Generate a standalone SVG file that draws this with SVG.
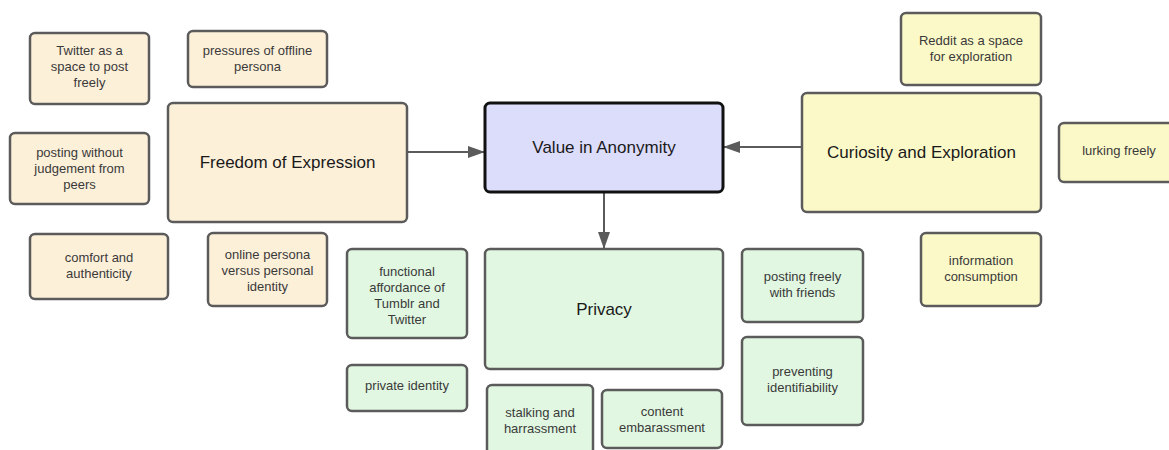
<svg xmlns="http://www.w3.org/2000/svg" width="1169" height="450" viewBox="0 0 1169 450">
  <style>
    .box { stroke: #5b5b5b; stroke-width: 2.5; }
    .orange { fill: #fdf0d9; }
    .yellow { fill: #fcf9c8; }
    .green { fill: #e1f7e1; }
    .core { fill: #dcdcfb; stroke: #111111; stroke-width: 3; }
    .small { font-family: "Liberation Sans", Arial, sans-serif; font-size: 13px; fill: #3a3a3a; text-anchor: middle; }
    .big { font-family: "Liberation Sans", Arial, sans-serif; font-size: 17px; fill: #1a1a1a; text-anchor: middle; }
    .link { stroke: #5b5b5b; stroke-width: 2; fill: none; marker-end: url(#head); }
  </style>
  <defs>
    <marker id="head" viewBox="0 0 17 12" refX="17" refY="6" markerWidth="17" markerHeight="12" markerUnits="userSpaceOnUse" orient="auto">
      <path d="M0,0 L17,6 L0,12 Z" fill="#5b5b5b"/>
    </marker>
  </defs>
  <rect width="1169" height="450" fill="#ffffff"/>

  <g id="connectors">
    <line class="link" x1="407" y1="152" x2="485" y2="152"/>
    <line class="link" x1="802" y1="147" x2="723" y2="147"/>
    <line class="link" x1="604" y1="192" x2="604" y2="249"/>
  </g>

  <!-- central concept -->
  <g id="value-in-anonymity">
    <rect class="core" x="485" y="103" width="238" height="89" rx="5"/>
    <text class="big" x="604" y="153">Value in Anonymity</text>
  </g>

  <!-- freedom of expression cluster -->
  <g id="freedom-of-expression">
    <rect class="box orange" x="168" y="103" width="239" height="119" rx="5"/>
    <text class="big" x="287.5" y="168">Freedom of Expression</text>
  </g>
  <g id="twitter-space">
    <rect class="box orange" x="30" y="33" width="119" height="71" rx="5"/>
    <text class="small" x="89.5" y="55">Twitter as a</text>
    <text class="small" x="89.5" y="71">space to post</text>
    <text class="small" x="89.5" y="87">freely</text>
  </g>
  <g id="offline-persona">
    <rect class="box orange" x="188" y="31" width="139" height="56" rx="5"/>
    <text class="small" x="257.5" y="55">pressures of offline</text>
    <text class="small" x="257.5" y="71">persona</text>
  </g>
  <g id="no-judgement">
    <rect class="box orange" x="10" y="133" width="139" height="71" rx="5"/>
    <text class="small" x="79.5" y="157">posting without</text>
    <text class="small" x="79.5" y="173">judgement from</text>
    <text class="small" x="79.5" y="189">peers</text>
  </g>
  <g id="comfort">
    <rect class="box orange" x="30" y="234" width="138" height="65" rx="5"/>
    <text class="small" x="99" y="262">comfort and</text>
    <text class="small" x="99" y="278">authenticity</text>
  </g>
  <g id="online-persona">
    <rect class="box orange" x="208" y="233" width="119" height="73" rx="5"/>
    <text class="small" x="267.5" y="259">online persona</text>
    <text class="small" x="267.5" y="275">versus personal</text>
    <text class="small" x="267.5" y="291">identity</text>
  </g>

  <!-- curiosity cluster -->
  <g id="curiosity-exploration">
    <rect class="box yellow" x="802" y="93" width="239" height="119" rx="5"/>
    <text class="big" x="921.5" y="158">Curiosity and Exploration</text>
  </g>
  <g id="reddit-space">
    <rect class="box yellow" x="901" y="13" width="140" height="72" rx="5"/>
    <text class="small" x="971" y="45">Reddit as a space</text>
    <text class="small" x="971" y="61">for exploration</text>
  </g>
  <g id="lurking">
    <rect class="box yellow" x="1059" y="123" width="120" height="59" rx="5"/>
    <text class="small" x="1119" y="155">lurking freely</text>
  </g>
  <g id="information">
    <rect class="box yellow" x="921" y="233" width="120" height="73" rx="5"/>
    <text class="small" x="981" y="265">information</text>
    <text class="small" x="981" y="281">consumption</text>
  </g>

  <!-- privacy cluster -->
  <g id="privacy">
    <rect class="box green" x="485" y="249" width="238" height="120" rx="5"/>
    <text class="big" x="604" y="315">Privacy</text>
  </g>
  <g id="functional-affordance">
    <rect class="box green" x="347" y="249" width="120" height="89" rx="5"/>
    <text class="small" x="407" y="276">functional</text>
    <text class="small" x="407" y="292">affordance of</text>
    <text class="small" x="407" y="308">Tumblr and</text>
    <text class="small" x="407" y="324">Twitter</text>
  </g>
  <g id="private-identity">
    <rect class="box green" x="347" y="365" width="120" height="46" rx="5"/>
    <text class="small" x="407" y="390">private identity</text>
  </g>
  <g id="stalking">
    <rect class="box green" x="487" y="385" width="106" height="75" rx="5"/>
    <text class="small" x="540" y="417">stalking and</text>
    <text class="small" x="540" y="433">harrassment</text>
  </g>
  <g id="content-embarassment">
    <rect class="box green" x="602" y="390" width="120" height="58" rx="5"/>
    <text class="small" x="662" y="416">content</text>
    <text class="small" x="662" y="432">embarassment</text>
  </g>
  <g id="posting-friends">
    <rect class="box green" x="742" y="249" width="121" height="73" rx="5"/>
    <text class="small" x="802.5" y="281">posting freely</text>
    <text class="small" x="802.5" y="297">with friends</text>
  </g>
  <g id="identifiability">
    <rect class="box green" x="742" y="337" width="121" height="88" rx="5"/>
    <text class="small" x="802.5" y="376">preventing</text>
    <text class="small" x="802.5" y="392">identifiability</text>
  </g>
</svg>
